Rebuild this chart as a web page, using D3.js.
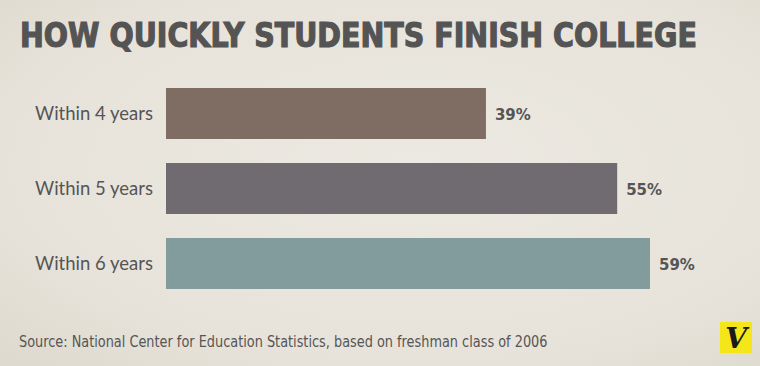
<!DOCTYPE html>
<html>
<head>
<meta charset="utf-8">
<script src="https://cdn.jsdelivr.net/npm/d3@7"></script>
<style>
  html, body { margin: 0; padding: 0; background: #e8e4dc; }
  svg { display: block; }
</style>
</head>
<body>
<svg id="chart"></svg>
<script>
const W = 760, H = 366;

// data
const categories = ["Within 4 years", "Within 5 years", "Within 6 years"];
const values = [39, 55, 59];
const valueLabels = ["39%", "55%", "59%"];
const barColors = ["#7f6c62", "#6f6b70", "#829b9d"];

const titleText = "HOW QUICKLY STUDENTS FINISH COLLEGE";
const sourceText = "Source: National Center for Education Statistics, based on freshman class of 2006";

const margin = { top: 76, left: 166 };

var svg = d3.select("#chart")
    .attr("width", W)
    .attr("height", H);

// paper background
var defs = svg.append("defs");
var grad = defs.append("radialGradient").attr("id", "paper")
    .attr("cx", "55%").attr("cy", "45%").attr("r", "75%");
grad.append("stop").attr("offset", "0%").attr("stop-color", "#ece9e2");
grad.append("stop").attr("offset", "70%").attr("stop-color", "#e7e3da");
grad.append("stop").attr("offset", "100%").attr("stop-color", "#dfdacf");
svg.append("rect").attr("width", W).attr("height", H).attr("fill", "url(#paper)");

// scales
var x = d3.scaleLinear()
    .domain([0, 59])
    .range([0, 484]);

var y = d3.scaleBand()
    .domain(categories)
    .range([margin.top, 301])
    .paddingInner(0.32)
    .paddingOuter(0.16);

// title, squeezed to the reference width
var title = svg.append("text")
    .attr("font-family", "'DejaVu Sans Condensed', 'DejaVu Sans', sans-serif")
    .attr("font-weight", "bold")
    .attr("font-size", 34)
    .attr("fill", "#545454")
    .attr("stroke", "#545454")
    .attr("stroke-width", 1.2)
    .text(titleText);
var tw = title.node().getComputedTextLength();
title.attr("transform", "translate(20,47) scale(" + (677 / tw) + ",1)");

// bars
svg.selectAll("rect.bar")
    .data(values)
    .enter()
    .append("rect")
    .attr("class", "bar")
    .attr("x", margin.left)
    .attr("y", function (d, i) { return y(categories[i]); })
    .attr("width", function (d) { return x(d); })
    .attr("height", y.bandwidth())
    .attr("fill", function (d, i) { return barColors[i]; });

// category labels
svg.selectAll("text.cat")
    .data(categories)
    .enter()
    .append("text")
    .attr("class", "cat")
    .attr("x", 153)
    .attr("y", function (d) { return y(d) + y.bandwidth() / 2 + 6; })
    .attr("text-anchor", "end")
    .attr("font-family", "Lato, 'Open Sans', sans-serif")
    .attr("font-size", 18.5)
    .attr("fill", "#555555")
    .text(function (d) { return d; });

// value labels
svg.selectAll("text.val")
    .data(values)
    .enter()
    .append("text")
    .attr("class", "val")
    .attr("x", function (d) { return margin.left + x(d) + 9; })
    .attr("y", function (d, i) { return y(categories[i]) + y.bandwidth() / 2 + 6; })
    .attr("font-family", "'DejaVu Sans', sans-serif")
    .attr("font-weight", "bold")
    .attr("font-size", 15)
    .attr("fill", "#555555")
    .text(function (d, i) { return valueLabels[i]; });

// source
var source = svg.append("text")
    .attr("font-family", "'DejaVu Sans Condensed', 'Open Sans', sans-serif")
    .attr("font-size", 15)
    .attr("fill", "#555555")
    .text(sourceText);
var sw = source.node().getComputedTextLength();
source.attr("transform", "translate(19,347) scale(" + (529 / sw) + ",1)");

// logo
var logo = svg.append("g").attr("transform", "translate(720,322)");
logo.append("rect").attr("width", 32).attr("height", 31).attr("fill", "#f5e61a");
logo.append("text")
    .attr("x", 16).attr("y", 26)
    .attr("text-anchor", "middle")
    .attr("font-family", "'DejaVu Serif', 'Liberation Serif', serif")
    .attr("font-weight", "bold")
    .attr("font-style", "italic")
    .attr("font-size", 28)
    .attr("fill", "#1a1a1a")
    .text("V");
</script>
</body>
</html>
